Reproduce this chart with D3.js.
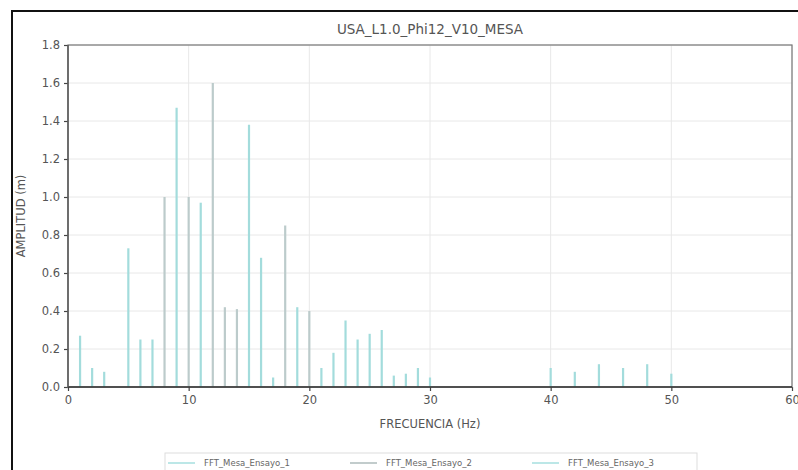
<!DOCTYPE html>
<html>
<head>
<meta charset="utf-8">
<script src="https://cdn.jsdelivr.net/npm/d3@7"></script>
<style>
  body { margin: 0; background: #fff; }
  svg { font-family: 'DejaVu Sans', sans-serif; }
</style>
</head>
<body>
<div id="chart"></div>
<script>
// FFT amplitudes (Hz, m)
const freqs1 = [1, 2, 3, 5, 6, 7, 9, 11, 15, 16, 17, 19, 21, 22, 23, 24, 25, 26, 27, 28, 29, 30]
const amps1 = [0.27, 0.10, 0.08, 0.73, 0.25, 0.25, 1.47, 0.97, 1.38, 0.68, 0.05, 0.42, 0.10, 0.18, 0.35, 0.25, 0.28, 0.30, 0.06, 0.07, 0.10, 0.05]
const freqs2 = [8, 10, 12, 13, 14, 18, 20]
const amps2 = [1.00, 1.00, 1.60, 0.42, 0.41, 0.85, 0.40]
const freqs3 = [40, 42, 44, 46, 48, 50]
const amps3 = [0.10, 0.08, 0.12, 0.10, 0.12, 0.07]

const seriesNames = ['FFT_Mesa_Ensayo_1', 'FFT_Mesa_Ensayo_2', 'FFT_Mesa_Ensayo_3']
const seriesColors = ['#a3dcdc', '#bccbcb', '#a3dcdc']
const xTicks = [0, 10, 20, 30, 40, 50, 60]
const yTicks = [0, 0.2, 0.4, 0.6, 0.8, 1.0, 1.2, 1.4, 1.6, 1.8]

const width = 798
const height = 470
const margin = { left: 68, right: 6, top: 45, bottom: 83 }

const svg = d3.select('#chart')
  .append('svg')
  .attr('width', width)
  .attr('height', height)

// outer figure frame
svg.append('path')
  .attr('d', `M12,${height} L12,11 L${width},11`)
  .attr('fill', 'none')
  .attr('stroke', '#111')
  .attr('stroke-width', 2)

const x = d3.scaleLinear().domain([0, 60]).range([margin.left, width - margin.right])
const y = d3.scaleLinear().domain([0, 1.8]).range([height - margin.bottom, margin.top])

// grid
svg.append('g')
  .selectAll('line.gx')
  .data(xTicks)
  .join('line')
  .attr('x1', d => x(d)).attr('x2', d => x(d))
  .attr('y1', y(0)).attr('y2', y(1.8))
  .attr('stroke', '#e8e8e8')
  .attr('stroke-width', 1)

svg.append('g')
  .selectAll('line.gy')
  .data(yTicks)
  .join('line')
  .attr('x1', x(0)).attr('x2', x(60))
  .attr('y1', d => y(d)).attr('y2', d => y(d))
  .attr('stroke', '#e8e8e8')
  .attr('stroke-width', 1)

// stems
const series = [
  { f: freqs1, a: amps1 },
  { f: freqs2, a: amps2 },
  { f: freqs3, a: amps3 }
]
series.forEach((s, i) => {
  svg.append('g')
    .selectAll('line')
    .data(s.f.map((f, j) => [f, s.a[j]]))
    .join('line')
    .attr('x1', d => x(d[0])).attr('x2', d => x(d[0]))
    .attr('y1', y(0)).attr('y2', d => y(d[1]))
    .attr('stroke', seriesColors[i])
    .attr('stroke-width', 2.2)
})

// axes
const xAxis = svg.append('g')
  .attr('transform', `translate(0,${y(0)})`)
  .call(d3.axisBottom(x).tickValues(xTicks).tickSize(4).tickPadding(5))
const yAxis = svg.append('g')
  .attr('transform', `translate(${x(0)},0)`)
  .call(d3.axisLeft(y).tickValues(yTicks).tickFormat(d3.format('.1f')).tickSize(4).tickPadding(4))

;[xAxis, yAxis].forEach(a => {
  a.select('.domain').remove()
  a.selectAll('.tick line').attr('stroke', '#444').attr('stroke-width', 1.2)
  a.selectAll('.tick text').attr('fill', '#555').attr('font-size', 11.5).attr('font-family', 'DejaVu Sans')
})

// frame of plot area
svg.append('rect')
  .attr('x', x(0)).attr('y', y(1.8))
  .attr('width', x(60) - x(0)).attr('height', y(0) - y(1.8))
  .attr('fill', 'none')
  .attr('stroke', '#777')
  .attr('stroke-width', 1.2)
svg.append('line')
  .attr('x1', x(0)).attr('x2', x(60)).attr('y1', y(0)).attr('y2', y(0))
  .attr('stroke', '#333').attr('stroke-width', 1.6)
svg.append('line')
  .attr('x1', x(0)).attr('x2', x(0)).attr('y1', y(0)).attr('y2', y(1.8))
  .attr('stroke', '#555').attr('stroke-width', 1.4)

// titles
svg.append('text')
  .attr('x', (x(0) + x(60)) / 2).attr('y', 34)
  .attr('text-anchor', 'middle')
  .attr('font-size', 13.5).attr('fill', '#555')
  .text('USA_L1.0_Phi12_V10_MESA')

svg.append('text')
  .attr('x', (x(0) + x(60)) / 2).attr('y', 428)
  .attr('text-anchor', 'middle')
  .attr('font-size', 11.5).attr('fill', '#555')
  .text('FRECUENCIA (Hz)')

svg.append('text')
  .attr('transform', `translate(25,${(y(0) + y(1.8)) / 2}) rotate(-90)`)
  .attr('text-anchor', 'middle')
  .attr('font-size', 11.5).attr('fill', '#555')
  .text('AMPLITUD (m)')

// legend
const legend = svg.append('g')
legend.append('rect')
  .attr('x', 165).attr('y', 453)
  .attr('width', 532).attr('height', 24)
  .attr('fill', '#fff')
  .attr('stroke', '#ddd')
const legendX = [168, 350, 532]
seriesNames.forEach((name, i) => {
  legend.append('line')
    .attr('x1', legendX[i]).attr('x2', legendX[i] + 27)
    .attr('y1', 463).attr('y2', 463)
    .attr('stroke', i === 1 ? '#9aa' : '#8fd8d8')
    .attr('stroke-width', 1.2)
  legend.append('text')
    .attr('x', legendX[i] + 36).attr('y', 466)
    .attr('font-size', 8.5).attr('fill', '#666')
    .text(name)
})
</script>
</body>
</html>
